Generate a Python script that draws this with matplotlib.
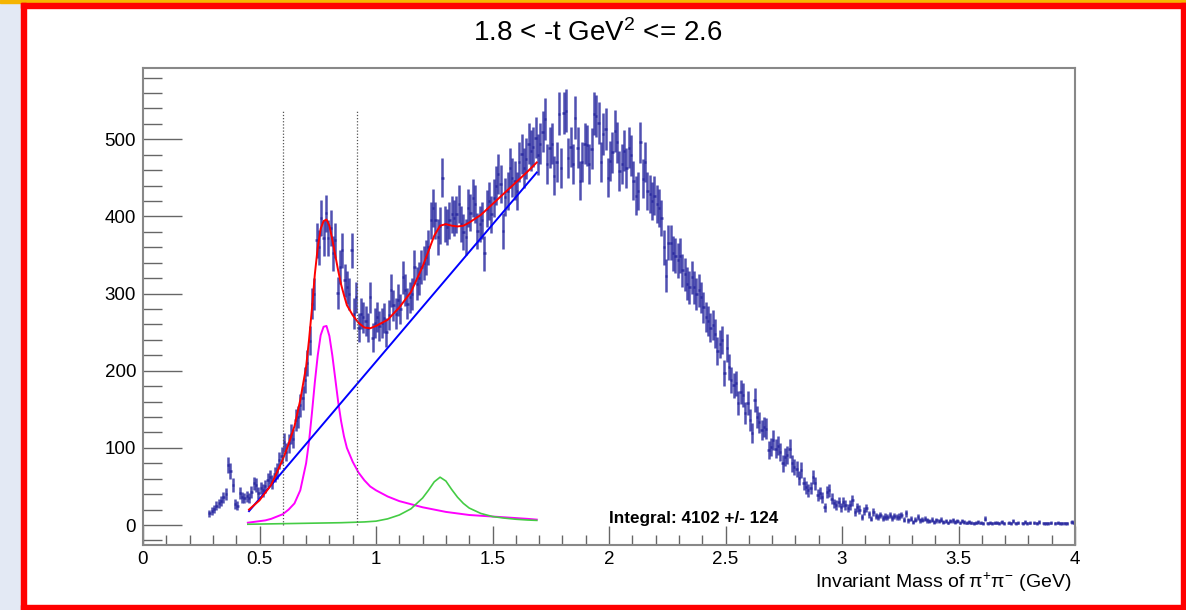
import numpy as np
import matplotlib
matplotlib.use("Agg")
import matplotlib.pyplot as plt
from matplotlib.patches import Rectangle
from matplotlib.ticker import MultipleLocator

plt.rcParams['font.family'] = ['Liberation Sans', 'DejaVu Sans']
plt.rcParams['mathtext.fontset'] = 'custom'
plt.rcParams['mathtext.rm'] = 'Liberation Sans'
plt.rcParams['mathtext.it'] = 'Liberation Sans:italic'

# pi+ pi- mass histogram, 0.01 GeV bins starting at 0.28 GeV
bin_start = 0.28
bin_width = 0.01
counts_threshold = [15, 18, 21, 25, 28, 31, 36, 40, 78, 70,
                    52, 27, 25, 42, 36, 35, 37]                       # 0.28 - 0.44
counts_rho = [35, 43, 54, 52, 42, 48, 45, 50, 58, 62, 56, 66, 70, 84, 90,
              107, 95, 106, 118, 112, 136, 140, 155, 165, 188, 210, 239, 287,
              300, 369, 360, 398, 372, 404, 372, 385, 352, 369, 301, 334, 356,
              317, 308, 300, 356, 274, 295, 256, 274, 269, 265, 256, 295, 243]  # 0.45 - 0.98
counts_f2 = [262, 270, 258, 262, 268, 250, 272, 304, 285, 274, 292, 280, 321,
             305, 287, 295, 300, 334, 313, 320, 334, 340, 347, 360, 395, 411,
             395, 373, 388, 450, 390, 386, 395, 403, 398, 403, 416, 390, 380,
             373, 411, 405, 424, 416, 381, 390, 395, 352, 410, 420, 403, 424,
             440, 455, 442, 381, 425, 433, 463, 450, 446, 433, 470, 481, 463,
             475, 494, 485, 490, 502, 480]                            # 0.99 - 1.69
counts_peak = [494, 510, 526, 468, 489, 494, 453, 470, 533, 463, 534, 537, 476,
               490, 468, 528, 489, 446, 470, 494, 492, 468, 488, 533, 530, 521,
               470, 507, 513, 450, 472, 483, 511, 496, 459, 468, 485, 463, 489,
               479, 446, 427, 433, 496, 449, 470, 433, 429, 420, 427, 416, 411,
               398, 360, 323, 366, 366, 352, 349, 343, 349, 330, 325, 313, 308,
               321, 308, 300]                                         # 1.70 - 2.37
counts_fall = [304, 295, 282, 270, 265, 256, 259, 248, 226, 235, 240, 197, 230,
               205, 188, 181, 184, 158, 172, 168, 145, 158, 136, 119, 162, 140,
               133, 123, 127, 125, 97, 101, 110, 99, 103, 95, 80, 88, 91, 99,
               80, 75, 73, 61, 71, 54, 49, 45, 48, 62, 54, 39, 42, 36, 23, 43,
               45, 34, 28, 26, 30, 23, 30, 26, 22, 26, 32, 17, 23, 20, 10, 18]  # 2.38 - 3.09
counts_tail = [22, 14, 8, 17, 12, 10, 13, 9, 11, 10,
               13, 9, 12, 10, 11, 13, 7, 15, 6, 8,
               4, 7, 10, 6, 7, 8, 6, 5, 7, 4,
               6, 5, 7, 4, 5, 3, 5, 6, 4, 5,
               3, 5, 4, 3, 4, 3, 2, 3, 4, 3,
               2, 8, 2, 3, 2, 3, 3, 2, 4, 2,
               0, 3, 2, 5, 2, 3, 0, 2, 4, 2,
               3, 0, 3, 2, 4, 0, 2, 2, 2, 3,
               0, 2, 3, 2, 2, 2, 2, 0, 4, 3]                       # 3.10 - 3.99

# fit components
bkg_x = [0.455, 1.69]
bkg_y = [18, 457]
rho_x = [0.45, 0.475, 0.5, 0.525, 0.55, 0.575, 0.6, 0.625, 0.65, 0.675, 0.7,
         0.7125, 0.725, 0.7375, 0.75, 0.7625, 0.775, 0.7875, 0.8, 0.8125, 0.825,
         0.8375, 0.85, 0.8625, 0.875, 0.9, 0.925, 0.95, 0.975, 1.0, 1.05, 1.1,
         1.15, 1.2, 1.25, 1.3, 1.35, 1.4, 1.45, 1.5, 1.55, 1.6, 1.65, 1.69]
rho_y = [3, 4, 5, 6, 8, 11, 14, 20, 28, 45, 80,
         108, 145, 185, 220, 246, 257, 258, 245, 220, 190,
         160, 135, 115, 100, 82, 68, 58, 50, 45, 37, 31,
         27, 23, 20, 17, 15, 13, 12, 11, 10, 9, 8, 7]
f2_x = [0.45, 0.55, 0.65, 0.75, 0.85, 0.95, 1.0, 1.05, 1.1, 1.15, 1.2, 1.225,
        1.25, 1.275, 1.3, 1.325, 1.35, 1.375, 1.4, 1.45, 1.5, 1.55, 1.6, 1.65, 1.69]
f2_y = [1, 1.5, 2, 2.5, 3, 4, 5, 8, 13, 21, 35, 45,
        56, 62, 57, 46, 36, 28, 22, 15, 11, 9, 7.5, 6.5, 6]
total_x = [0.455, 0.5, 0.55, 0.6, 0.625, 0.65, 0.675, 0.7, 0.7125, 0.725, 0.7375,
           0.75, 0.7625, 0.775, 0.7875, 0.8, 0.8125, 0.825, 0.8375, 0.85, 0.8625,
           0.875, 0.9, 0.925, 0.95, 0.975, 1.0, 1.05, 1.1, 1.15, 1.2, 1.225, 1.25,
           1.275, 1.3, 1.325, 1.35, 1.375, 1.4, 1.45, 1.5, 1.55, 1.6, 1.65, 1.69]
total_y = [20, 32, 52, 85, 105, 128, 162, 205, 240, 280, 325,
           360, 384, 394, 396, 388, 370, 350, 330, 312, 298,
           285, 272, 262, 256, 255, 258, 266, 282, 302, 335, 355, 375,
           388, 390, 388, 387, 388, 392, 402, 416, 430, 444, 458, 470]

cut_lines = [0.6, 0.92]
xtick_labels = ["0", "0.5", "1", "1.5", "2", "2.5", "3", "3.5", "4"]

counts = np.array(counts_threshold + counts_rho + counts_f2 + counts_peak
                  + counts_fall + counts_tail, dtype=float)
centers = bin_start + bin_width * (np.arange(len(counts)) + 0.5)
errors = 1.2 * np.sqrt(counts)
shown = counts > 0

W, H = 1186, 610
fig = plt.figure(figsize=(W / 100, H / 100), dpi=100)

def px_rect(x0, y0, x1, y1, color):
    fig.patches.append(Rectangle((x0 / W, 1 - y1 / H), (x1 - x0) / W, (y1 - y0) / H,
                                 transform=fig.transFigure, color=color, zorder=0))

# canvas decoration
px_rect(0, 0, 21, 610, '#e3e9f4')
px_rect(0, 0, 1186, 3, '#f5b400')
px_rect(21, 3, 1186, 8, '#ff0000')
px_rect(21, 3, 26, 610, '#ff0000')
px_rect(1181, 3, 1186, 610, '#ff0000')
px_rect(21, 605, 1186, 610, '#ff0000')

ax = fig.add_axes([143 / W, 1 - 545 / H, (1075 - 143) / W, (545 - 68) / H])

ax.errorbar(centers[shown], counts[shown], yerr=errors[shown], xerr=bin_width / 2,
            fmt='none', ecolor='#24249e', elinewidth=1.8, alpha=0.8, capsize=0)

ax.plot(rho_x, rho_y, color='#ff00ff', lw=1.4)
ax.plot(f2_x, f2_y, color='#44cc44', lw=1.2)
ax.plot(bkg_x, bkg_y, color='#0000ff', lw=1.4)
ax.plot(total_x, total_y, color='#ff0000', lw=1.4)

ax.vlines(cut_lines, 0, 537, colors='#555555', linestyles=(0, (1, 1.5)), linewidth=0.9)

ax.text(2.0, 8, 'Integral: 4102 +/- 124', fontweight='bold', fontsize=12.3,
        ha='left', va='center')

ax.set_xlim(0, 4)
ax.set_ylim(-25.9, 592.4)
ax.set_xticks(np.arange(len(xtick_labels)) * 0.5)
ax.set_xticklabels(xtick_labels)
ax.xaxis.set_minor_locator(MultipleLocator(0.1))
ax.yaxis.set_major_locator(MultipleLocator(100))
ax.yaxis.set_minor_locator(MultipleLocator(20))
ax.tick_params(axis='x', which='major', direction='in', length=14, width=1,
               color='#666666', labelsize=13.5, pad=4)
ax.tick_params(axis='x', which='minor', direction='in', length=7, width=1, color='#666666')
ax.tick_params(axis='y', which='major', direction='in', length=28, width=1,
               color='#666666', labelsize=13.5, pad=5)
ax.tick_params(axis='y', which='minor', direction='in', length=14, width=1, color='#666666')
for s in ax.spines.values():
    s.set_color('#888888')
    s.set_linewidth(1.5)

fig.text(598 / W, 1 - 33 / H, '1.8 < -t GeV$^{2}$ <= 2.6', fontsize=20,
         ha='center', va='center')
fig.text(1071 / W, 1 - 582 / H, r'Invariant Mass of $\mathrm{\pi}^{+}\mathrm{\pi}^{-}$ (GeV)',
         fontsize=14, ha='right', va='center')

fig.savefig('out.png', dpi=100)
